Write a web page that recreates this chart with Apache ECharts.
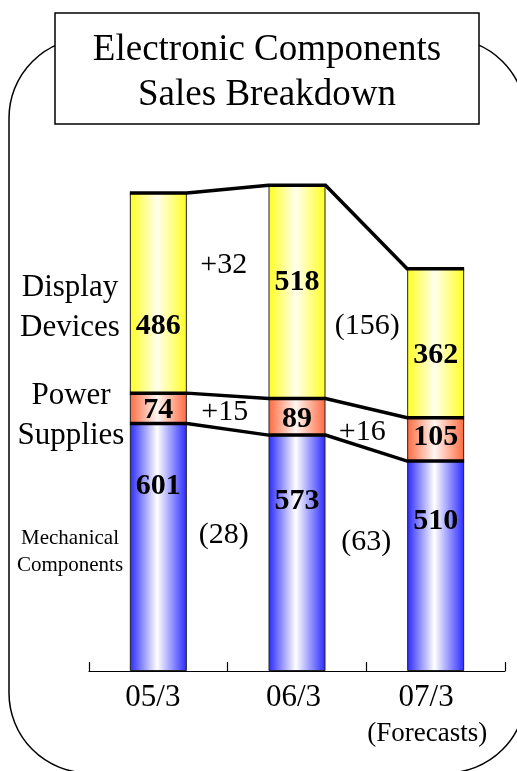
<!DOCTYPE html>
<html>
<head>
<meta charset="utf-8">
<script src="https://cdn.jsdelivr.net/npm/echarts@6/dist/echarts.min.js"></script>
<style>
html,body{margin:0;padding:0;background:#fff;}
#chart{width:517px;height:771px;}
</style>
</head>
<body>
<div id="chart"></div>
<script>
// ---- data ----
const categories = ['05/3', '06/3', '07/3'];
const mechanical = [601, 573, 510];
const power = [74, 89, 105];
const display = [486, 518, 362];
const seriesLabels = ['Mechanical\nComponents', 'Power\nSupplies', 'Display\nDevices'];
const titleText = 'Electronic Components\nSales Breakdown';
const forecastNote = '(Forecasts)';
const forecastCategory = '07/3';

// ---- styles / layout (not data) ----
const FONT = "'Liberation Serif','Times New Roman',serif";
const BAR_W = 57;
const valueLabelOffsets = [
  [[0, -61], [0, -52], [0, -45]],   // mechanical
  [[0, 2], [0, 2], [0, -2]],        // power
  [[0, 33], [0, -10], [0, 12]]      // display
];
const changeLabelOffsets = [
  [[-4, -15], [0, -17]],   // mechanical gaps
  [[-3, 0], [-4, 4]],      // power gaps
  [[-4, -27], [1, 9]]      // display gaps
];
const xLabelPadRight = [11, 7, 19];  // shifts labels slightly left of the category center

function grad(edge, mid) {
  return {
    type: 'linear', x: 0, y: 0, x2: 1, y2: 0,
    colorStops: [
      { offset: 0, color: edge },
      { offset: 0.48, color: mid },
      { offset: 1, color: edge }
    ]
  };
}
const fills = [grad('#2a2aff', '#ffffff'), grad('#ff6a40', '#fff6f2'), grad('#ffff20', '#ffffee')];

const segments = [mechanical, power, display];
// cumulative tops and bottoms
const tops = [], bottoms = [];
segments.forEach((seg, k) => {
  tops.push(seg.map((v, i) => (k === 0 ? 0 : tops[k - 1][i]) + v));
  bottoms.push(seg.map((v, i) => (k === 0 ? 0 : tops[k - 1][i])));
});

function fmtChange(d) {
  return d >= 0 ? '+' + d : '(' + (-d) + ')';
}

const barSeries = segments.map((seg, k) => ({
  type: 'bar',
  stack: 'total',
  barWidth: BAR_W,
  data: seg.map((v, i) => ({ value: v, label: { offset: valueLabelOffsets[k][i] } })),
  itemStyle: { color: fills[k], borderColor: '#222', borderWidth: 1 },
  label: {
    show: true, position: 'inside', color: '#000',
    fontFamily: FONT, fontWeight: 'bold', fontSize: 30
  },
  z: 2
}));

// connecting level lines
const lineSeries = {
  type: 'custom',
  data: tops.map((t, k) => [k]),
  clip: false,
  z: 5,
  silent: true,
  renderItem(params, api) {
    const lvl = tops[params.dataIndex];
    const pts = [];
    lvl.forEach((v, i) => {
      const p = api.coord([i, v]);
      pts.push([p[0] - BAR_W / 2, p[1]], [p[0] + BAR_W / 2, p[1]]);
    });
    return { type: 'polyline', shape: { points: pts }, style: { stroke: '#000', lineWidth: 3.5, fill: null } };
  }
};

// change annotations between bars
const changeItems = [];
segments.forEach((seg, k) => {
  for (let i = 0; i < seg.length - 1; i++) changeItems.push([k, i]);
});
const changeSeries = {
  type: 'custom',
  data: changeItems,
  clip: false,
  z: 6,
  silent: true,
  renderItem(params, api) {
    const [k, i] = changeItems[params.dataIndex];
    const seg = segments[k];
    const midA = (bottoms[k][i] + tops[k][i]) / 2;
    const midB = (bottoms[k][i + 1] + tops[k][i + 1]) / 2;
    const pa = api.coord([i, (midA + midB) / 2]);
    const pb = api.coord([i + 1, (midA + midB) / 2]);
    const off = changeLabelOffsets[k][i];
    return {
      type: 'text',
      x: (pa[0] + pb[0]) / 2 + off[0],
      y: pa[1] + off[1],
      style: {
        text: fmtChange(seg[i + 1] - seg[i]),
        fill: '#000', font: '30px ' + FONT,
        align: 'center', verticalAlign: 'middle'
      }
    };
  }
};

const richX = {};
xLabelPadRight.forEach((p, i) => {
  richX['a' + i] = { fontFamily: FONT, fontSize: 31, color: '#000', lineHeight: 31, padding: [0, p, 0, 0] };
});
richX.b = { fontFamily: FONT, fontSize: 27, color: '#000', lineHeight: 42, padding: [0, 17, 0, 0] };

const chart = echarts.init(document.getElementById('chart'), null, { renderer: 'canvas' });
chart.setOption({
  animation: false,
  backgroundColor: '#fff',
  grid: { left: 89, right: 12, top: 177, bottom: 100 },
  xAxis: {
    type: 'category',
    data: categories,
    axisLine: { lineStyle: { color: '#000', width: 1.2 } },
    axisTick: { show: true, inside: true, length: 9, alignWithLabel: false, interval: 0, lineStyle: { color: '#000', width: 1.2 } },
    axisLabel: {
      margin: 11,
      formatter: (v, idx) => {
        const a = '{a' + idx + '|' + v + '}';
        return v === forecastCategory ? a + '\n{b|' + forecastNote + '}' : a;
      },
      rich: richX
    }
  },
  yAxis: { type: 'value', min: 0, max: 1200, show: false, splitLine: { show: false } },
  graphic: [
    {
      type: 'rect', z: -10, silent: true,
      shape: { x: 9, y: 38, width: 517, height: 735, r: 80 },
      style: { fill: null, stroke: '#000', lineWidth: 1.5 }
    },
    {
      type: 'rect', z: 10, silent: true,
      shape: { x: 55, y: 13, width: 424, height: 111 },
      style: { fill: '#fff', stroke: '#000', lineWidth: 1.5 }
    },
    {
      type: 'text', z: 11, silent: true,
      x: 267, y: 73,
      style: { text: titleText, font: '37px ' + FONT, fill: '#000', align: 'center', verticalAlign: 'middle', lineHeight: 45 }
    },
    {
      type: 'text', z: 11, silent: true, x: 70, y: 308,
      style: { text: seriesLabels[2], font: '31px ' + FONT, fill: '#000', align: 'center', verticalAlign: 'middle', lineHeight: 40 }
    },
    {
      type: 'text', z: 11, silent: true, x: 71, y: 416,
      style: { text: seriesLabels[1], font: '31px ' + FONT, fill: '#000', align: 'center', verticalAlign: 'middle', lineHeight: 40 }
    },
    {
      type: 'text', z: 11, silent: true, x: 70, y: 552,
      style: { text: seriesLabels[0], font: '21px ' + FONT, fill: '#000', align: 'center', verticalAlign: 'middle', lineHeight: 27 }
    }
  ],
  series: [...barSeries, lineSeries, changeSeries]
});
</script>
</body>
</html>
